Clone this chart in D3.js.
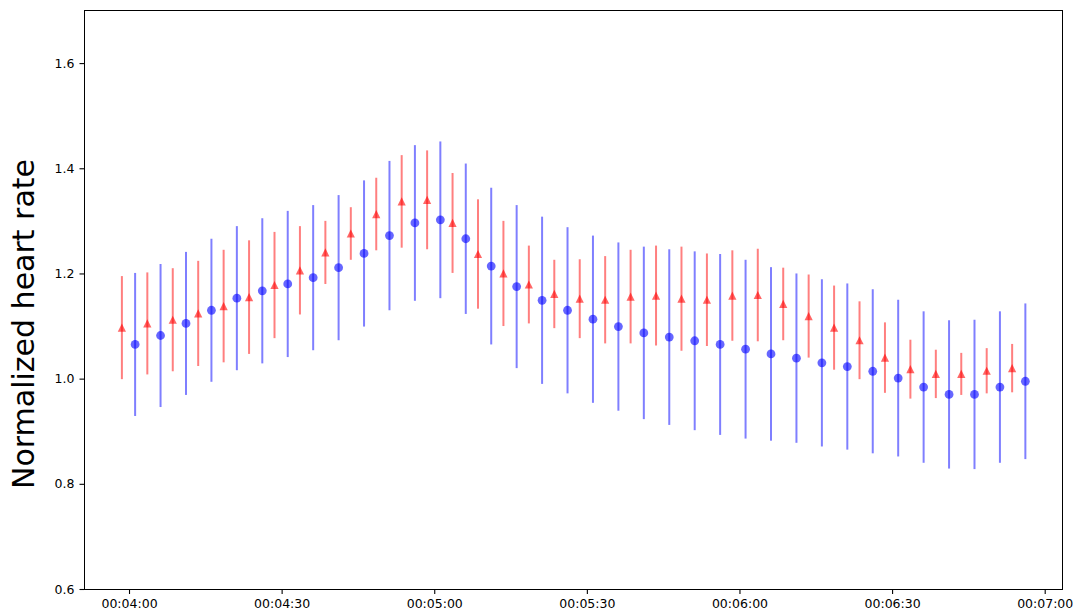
<!DOCTYPE html>
<meta charset="utf-8">
<style> /* set the CSS */

body { margin: 0; background: #fff; }

.frame {
  fill: none;
  stroke: #000;
  stroke-width: 1;
  shape-rendering: crispEdges;
}
.axis path { display: none; }
.axis line {
  stroke: #000;
  stroke-width: 1.1;
}
.axis text {
  font-family: "DejaVu Sans", sans-serif;
  font-size: 12.5px;
  fill: #000;
}
.ylabel {
  font-family: "DejaVu Sans", sans-serif;
  font-size: 30px;
  fill: #000;
}

</style>
<body>

<div id="plotHere"></div>

<script src="https://cdn.jsdelivr.net/npm/d3@7"></script>
<script>
//------------------------1. PREPARATION------------------------//

const ylabel = "Normalized heart rate";

// sample times in seconds (one every 5 s from 00:04:00)
const times = [240, 245, 250, 255, 260, 265, 270, 275, 280, 285, 290, 295,
               300, 305, 310, 315, 320, 325, 330, 335, 340, 345, 350, 355,
               360, 365, 370, 375, 380, 385, 390, 395, 400, 405, 410, 415];

// red series (triangles)
const redMean = [1.097, 1.105, 1.112, 1.124, 1.138, 1.155, 1.178, 1.206, 1.240, 1.276, 1.313, 1.337,
                 1.340, 1.296, 1.237, 1.200, 1.179, 1.161, 1.152, 1.150, 1.156, 1.158, 1.152, 1.150,
                 1.158, 1.159, 1.142, 1.119, 1.097, 1.073, 1.040, 1.018, 1.009, 1.009, 1.015, 1.020];
const redErr  = [0.098, 0.097, 0.098, 0.100, 0.107, 0.108, 0.101, 0.084, 0.060, 0.050, 0.069, 0.088,
                 0.094, 0.095, 0.104, 0.100, 0.074, 0.065, 0.075, 0.083, 0.089, 0.095, 0.099, 0.088,
                 0.086, 0.088, 0.069, 0.079, 0.080, 0.074, 0.067, 0.056, 0.046, 0.040, 0.043, 0.046];

// blue series (circles)
const blueMean = [1.065, 1.082, 1.105, 1.130, 1.153, 1.167, 1.180, 1.192, 1.211, 1.238, 1.272, 1.296,
                  1.302, 1.266, 1.214, 1.175, 1.149, 1.130, 1.113, 1.099, 1.087, 1.079, 1.072, 1.065,
                  1.056, 1.047, 1.039, 1.030, 1.023, 1.014, 1.001, 0.984, 0.970, 0.970, 0.984, 0.995];
const blueErr  = [0.136, 0.136, 0.136, 0.136, 0.137, 0.138, 0.139, 0.138, 0.138, 0.139, 0.142, 0.148,
                  0.149, 0.143, 0.149, 0.155, 0.159, 0.158, 0.159, 0.160, 0.164, 0.167, 0.170, 0.172,
                  0.170, 0.165, 0.161, 0.159, 0.158, 0.156, 0.149, 0.144, 0.141, 0.142, 0.144, 0.148];

// ticks
const xTicks = [240, 270, 300, 330, 360, 390, 420];
const xTickLabels = ["00:04:00", "00:04:30", "00:05:00", "00:05:30", "00:06:00", "00:06:30", "00:07:00"];
const yTicks = [0.6, 0.8, 1.0, 1.2, 1.4, 1.6];

// the two series are drawn a little apart in time
const redShift = -1.4, blueShift = 1.2;

// set the dimensions and margins of the graph
var margin = {top: 10.5, right: 12.5, bottom: 21, left: 84.5},
    width = 1075 - margin.left - margin.right,
    height = 610 - margin.top - margin.bottom;

//--------------------------SCALES------------------------------//

var x = d3.scaleLinear().domain([231.25, 423.5]).range([0, width]);
var y = d3.scaleLinear().domain([0.6, 1.7]).range([height, 0]);

var svg = d3.select("#plotHere").append("svg")
    .attr("width", 1075)
    .attr("height", 610)
  .append("g")
    .attr("transform", "translate(" + margin.left + "," + margin.top + ")");

//-------------------------- AXES ------------------------------//

svg.append("g")
    .attr("class", "axis")
    .attr("transform", "translate(0," + height + ")")
    .call(d3.axisBottom(x)
      .tickValues(xTicks)
      .tickSize(5)
      .tickPadding(5)
      .tickFormat(function(d, i) { return xTickLabels[i]; }));

svg.append("g")
    .attr("class", "axis")
    .call(d3.axisLeft(y)
      .tickValues(yTicks)
      .tickSize(5)
      .tickPadding(5)
      .tickFormat(d3.format(".1f")));

svg.append("rect")
    .attr("class", "frame")
    .attr("x", 0)
    .attr("y", 0)
    .attr("width", width)
    .attr("height", height);

svg.append("text")  // label for y axis
    .attr("class", "ylabel")
    .attr("transform", "translate(" + (33.5 - margin.left) + "," + (324 - margin.top) + ") rotate(-90)")
    .attr("text-anchor", "middle")
    .text(ylabel);

//-----------------------2. Drawing  ----------------------------//

function series(mean, err, shift, color, shape) {
  var data = times.map(function(t, i) { return {t: t + shift, m: mean[i], e: err[i]}; });
  var g = svg.append("g");

  g.selectAll("line")
      .data(data)
    .enter().append("line")
      .attr("x1", function(d) { return x(d.t); })
      .attr("x2", function(d) { return x(d.t); })
      .attr("y1", function(d) { return y(d.m - d.e); })
      .attr("y2", function(d) { return y(d.m + d.e); })
      .attr("stroke", color)
      .attr("stroke-width", 2)
      .attr("stroke-opacity", 0.5);

  if (shape === "circle") {
    g.selectAll("circle")
        .data(data)
      .enter().append("circle")
        .attr("cx", function(d) { return x(d.t); })
        .attr("cy", function(d) { return y(d.m); })
        .attr("r", 4.4)
        .attr("fill", color)
        .attr("fill-opacity", 0.6);
  } else {
    var s = 4.1;
    g.selectAll("path.tri")
        .data(data)
      .enter().append("path")
        .attr("class", "tri")
        .attr("transform", function(d) { return "translate(" + x(d.t) + "," + y(d.m) + ")"; })
        .attr("d", "M0," + (-s) + "L" + s + "," + s + "L" + (-s) + "," + s + "Z")
        .attr("fill", color)
        .attr("fill-opacity", 0.6);
  }
}

series(redMean, redErr, redShift, "#ff0000", "triangle");
series(blueMean, blueErr, blueShift, "#0000ff", "circle");

</script>
</body>
